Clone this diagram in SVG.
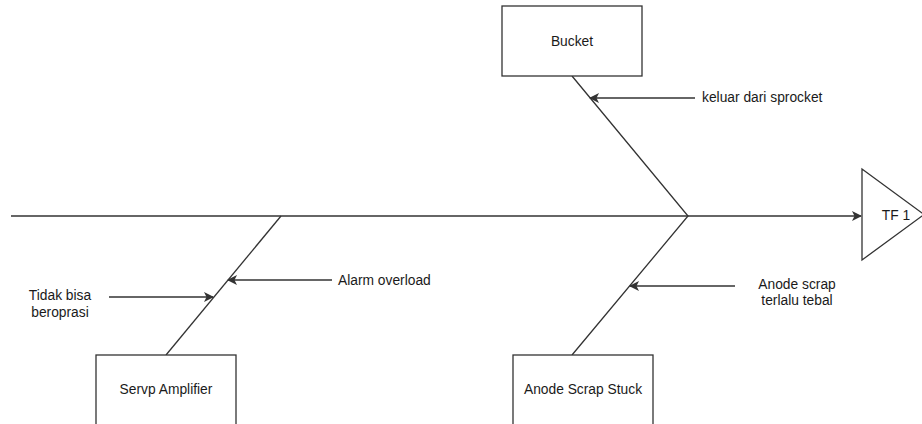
<svg xmlns="http://www.w3.org/2000/svg" width="922" height="424" viewBox="0 0 922 424">
<defs>
<style>
.box{fill:#fff;stroke:#333;stroke-width:1.3}
.ln{fill:none;stroke:#333;stroke-width:1.3}
.t{font-family:"Liberation Sans",Arial,sans-serif;font-size:13.8px;fill:#1a1a1a}
.m{text-anchor:middle}
</style>
<marker id="ah" viewBox="0 0 10 10" refX="9" refY="5" markerWidth="10" markerHeight="10" markerUnits="userSpaceOnUse" orient="auto">
<path d="M0,0 L10,5 L0,10 L2.5,5 Z" fill="#333"/>
</marker>
</defs>
<g id="connectors">
<line class="ln" x1="11" y1="216" x2="861" y2="216" marker-end="url(#ah)"/>
<polyline class="ln" points="572,76 688,216 572,355"/>
<line class="ln" x1="166" y1="355" x2="281" y2="216"/>
<line class="ln" x1="695" y1="98" x2="590" y2="98" marker-end="url(#ah)"/>
<line class="ln" x1="332" y1="280" x2="228" y2="280" marker-end="url(#ah)"/>
<line class="ln" x1="109" y1="297" x2="213" y2="297" marker-end="url(#ah)"/>
<line class="ln" x1="735" y1="286" x2="630" y2="286" marker-end="url(#ah)"/>
</g>
<g id="bucket">
<rect class="box" x="502" y="6" width="140" height="70"/>
<text class="t m" x="572" y="46">Bucket</text>
</g>
<g id="servo">
<rect class="box" x="96" y="355" width="140" height="72"/>
<text class="t m" x="166" y="394">Servp Amplifier</text>
</g>
<g id="anode">
<rect class="box" x="513" y="355" width="140" height="72"/>
<text class="t m" x="583" y="394">Anode Scrap Stuck</text>
</g>
<g id="tf1">
<polygon class="box" points="862,169 862,260 924,214.5"/>
<text class="t m" x="896" y="220">TF 1</text>
</g>
<g id="labels">
<text class="t" x="702" y="102">keluar dari sprocket</text>
<text class="t" x="338" y="285">Alarm overload</text>
<text class="t m" x="60" y="300">Tidak bisa</text>
<text class="t m" x="60" y="317">beroprasi</text>
<text class="t m" x="797" y="289">Anode scrap</text>
<text class="t m" x="797" y="305">terlalu tebal</text>
</g>
</svg>
